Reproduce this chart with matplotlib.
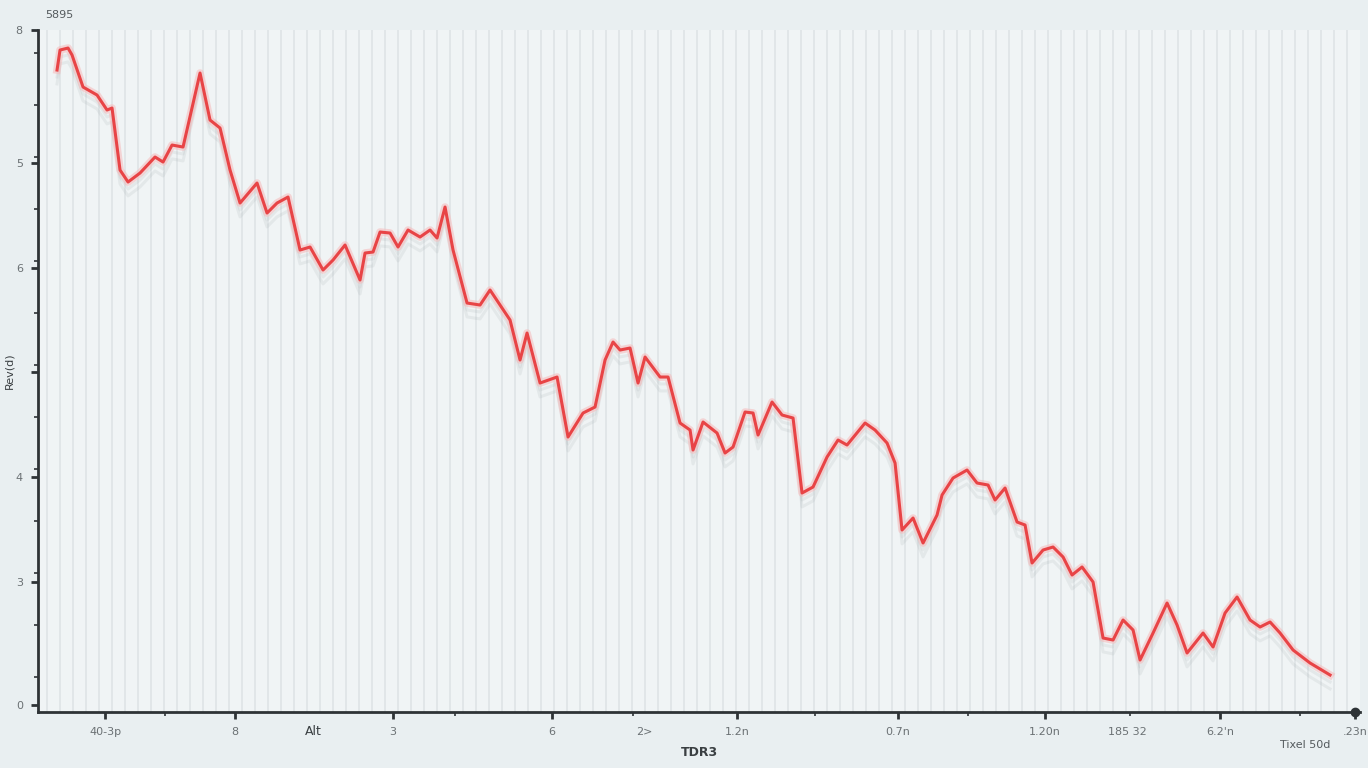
import matplotlib
matplotlib.use("Agg")
import matplotlib.pyplot as plt
import matplotlib.patheffects as pe
from matplotlib.ticker import FixedLocator
import numpy as np

# series
x_vals = [1.9, 2.2, 3.0, 3.4, 4.5, 5.9, 6.9, 7.4, 8.2, 9.0, 10.2, 11.7, 12.5, 13.4, 14.5,
          16.2, 17.2, 18.2, 19.2, 20.2, 21.9, 22.9, 23.9, 25.0, 26.2, 27.2, 28.5, 29.5,
          30.7, 32.2, 32.7, 33.5, 34.2, 35.2, 36.0, 37.0, 38.2, 39.2, 39.9, 40.7, 41.5,
          42.9, 44.2, 45.2, 47.2, 48.2, 48.9, 50.2, 51.9, 53.0, 54.5, 55.7, 56.7, 57.5,
          58.2, 59.2, 60.0, 60.7, 62.2, 63.0, 64.2, 65.2, 65.5, 66.5, 67.9, 68.7, 69.5,
          70.7, 71.5, 72.0, 73.4, 74.4, 75.5, 76.4, 77.5, 78.9, 80.0, 80.9, 82.7, 83.7,
          84.9, 85.7, 86.4, 87.5, 88.5, 89.9, 90.4, 91.5, 92.9, 93.9, 95.0, 95.7, 96.7,
          97.9, 98.7, 99.4, 100.5, 101.5, 102.5, 103.4, 104.4, 105.5, 106.5, 107.5, 108.5,
          109.5, 110.2, 111.5, 112.9, 113.9, 114.9, 116.5, 117.5, 118.7, 119.9, 121.2,
          122.2, 123.2, 124.2, 125.5, 127.2, 129.2]
y_vals = [64.2, 66.2, 66.4, 65.7, 62.5, 61.7, 60.2, 60.4, 54.2, 53.0, 53.9, 55.5, 55.0, 56.7, 56.5,
          63.9, 59.2, 58.4, 54.2, 50.9, 52.9, 49.9, 50.9, 51.5, 46.2, 46.5, 44.2, 45.2,
          46.7, 43.2, 45.9, 46.0, 48.0, 47.9, 46.5, 48.2, 47.5, 48.2, 47.4, 50.5, 46.2,
          40.9, 40.7, 42.2, 39.2, 35.2, 37.9, 32.9, 33.5, 27.5, 29.9, 30.5, 35.2, 37.0,
          36.2, 36.4, 32.9, 35.5, 33.5, 33.5, 28.9, 28.2, 26.2, 29.0, 27.9, 25.9, 26.5,
          30.0, 29.9, 27.7, 31.0, 29.7, 29.4, 21.9, 22.5, 25.5, 27.2, 26.7, 28.9, 28.2,
          26.9, 24.9, 18.2, 19.4, 16.9, 19.7, 21.7, 23.4, 24.2, 22.9, 22.7, 21.2, 22.4,
          19.0, 18.7, 14.9, 16.2, 16.5, 15.5, 13.7, 14.5, 13.0, 7.4, 7.2, 9.2,
          8.2, 5.2, 7.9, 10.9, 8.7, 5.9, 7.9, 6.5, 9.9, 11.5, 9.2,
          8.5, 9.0, 7.9, 6.2, 4.9, 3.7]

y_ticks = [68.2, 54.9, 44.4, 34.0, 23.5, 13.0, 0.7]
y_tick_labels = ['8', '5', '6', '', '4', '3', '0']
x_ticks = [6.7, 19.7, 35.5, 51.4, 69.9, 86.0, 100.7, 118.2, 131.7]
x_tick_labels = ['40-3p', '8', '3', '6', '1.2n', '0.7n', '1.20n', '6.2\'n', '.23n']
x_minor = [12.7, 41.7, 59.5, 77.7, 93.0, 109.2, 126.2]

fig = plt.figure(figsize=(13.68, 7.68), dpi=100)
fig.patch.set_facecolor('#e9eff1')
ax = fig.add_axes([0.0278, 0.0729, 0.9664, 0.888])
ax.set_facecolor('#f0f4f5')

# dense vertical grid
for gx in np.arange(0.9, 132, 1.3):
    ax.axvline(gx, color='#dde3e5', lw=1.1, zorder=1)

ax.plot(x_vals, y_vals, color='#e84446', lw=2.2, zorder=3,
        path_effects=[pe.SimpleLineShadow(offset=(0, -10), shadow_color='#8a9498', alpha=0.12, rho=1),
                      pe.SimpleLineShadow(offset=(0, -5), shadow_color='#8a9498', alpha=0.12, rho=1),
                      pe.Stroke(linewidth=5.5, foreground='#f6b9b9', alpha=0.55),
                      pe.Normal()])

ax.set_xlim(0, 132.2)
ax.set_ylim(0, 68.2)

for side in ['top', 'right']:
    ax.spines[side].set_visible(False)
for side in ['left', 'bottom']:
    ax.spines[side].set_color('#2e3336')
    ax.spines[side].set_linewidth(2)
ax.plot([131.7], [0], 'o', color='#2e3336', ms=6, clip_on=False, zorder=5)

ax.set_yticks(y_ticks)
ax.set_yticklabels(y_tick_labels, color='#6b7174', fontsize=8)
ax.yaxis.set_minor_locator(FixedLocator(np.arange(3.5, 68, 5.2)))
ax.set_xticks(x_ticks)
ax.set_xticklabels(x_tick_labels, color='#6b7174', fontsize=8)
ax.xaxis.set_minor_locator(FixedLocator(x_minor))
ax.tick_params(axis='both', which='major', length=5, width=2, color='#2e3336', pad=6)
ax.tick_params(axis='both', which='minor', length=3, width=1.2, color='#2e3336')

ax.set_ylabel('Rev(d)', fontsize=8, color='#3a3f42')
ax.yaxis.set_label_coords(-0.018, 0.5)
ax.set_xlabel('TDR3', fontsize=9, fontweight='bold', color='#3a3f42', labelpad=6)

fig.text(0.033, 0.987, '5895', fontsize=8, color='#555b5e', va='top')
fig.text(0.229, 0.047, 'Alt', fontsize=9, color='#3a3f42', ha='center', va='center')
fig.text(0.471, 0.047, '2>', fontsize=8, color='#6b7174', ha='center', va='center')
fig.text(0.824, 0.047, '185 32', fontsize=8, color='#6b7174', ha='center', va='center')
fig.text(0.954, 0.030, 'Tixel 50d', fontsize=8, color='#555b5e', ha='center', va='center')

fig.savefig('out.png', dpi=100, facecolor=fig.get_facecolor())
